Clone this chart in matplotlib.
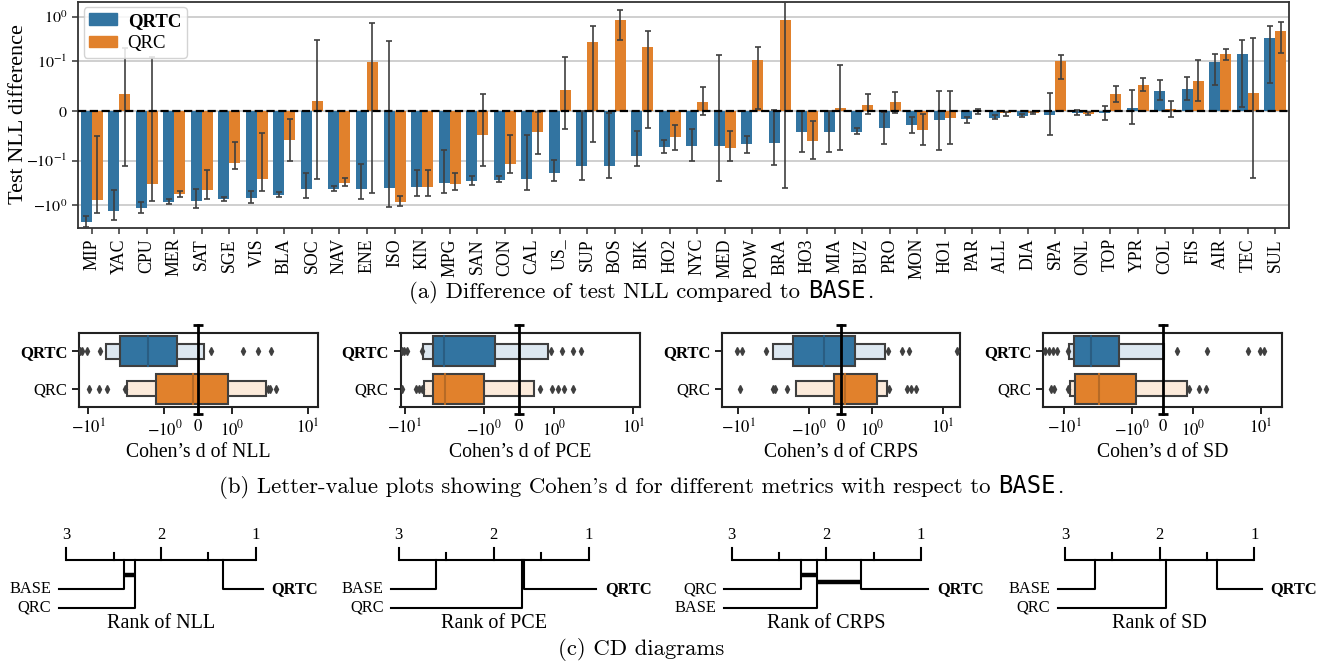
import matplotlib
matplotlib.use('Agg')
import matplotlib.pyplot as plt
import numpy as np
from matplotlib.patches import Patch
from matplotlib.ticker import NullLocator

plt.rcParams['font.family'] = ['Liberation Serif', 'DejaVu Serif']
plt.rcParams['mathtext.fontset'] = 'stix'
plt.rcParams['axes.unicode_minus'] = True

# ---------------- data ----------------
datasets = ["MIP", "YAC", "CPU", "MER", "SAT", "SGE", "VIS", "BLA", "SOC", "NAV", "ENE", "ISO",
            "KIN", "MPG", "SAN", "CON", "CAL", "US_", "SUP", "BOS", "BIK", "HO2", "NYC", "MED",
            "POW", "BRA", "HO3", "MIA", "BUZ", "PRO", "MON", "HO1", "PAR", "ALL", "DIA", "SPA",
            "ONL", "TOP", "YPR", "COL", "FIS", "AIR", "TEC", "SUL"]

qrtc_diff = [-2.33, -1.34, -1.15, -0.84, -0.80, -0.72, -0.67, -0.58, -0.42, -0.42, -0.42, -0.40,
             -0.38, -0.31, -0.285, -0.27, -0.26, -0.186, -0.129, -0.129, -0.090, -0.072, -0.070, -0.070,
             -0.066, -0.064, -0.043, -0.042, -0.042, -0.035, -0.029, -0.019, -0.017, -0.013, -0.0095, -0.007,
             -0.003, -0.003, 0.006, 0.041, 0.045, 0.098, 0.15, 0.327]
qrtc_lo = [-3.0, -2.17, -1.5, -0.92, -1.15, -0.80, -0.89, -0.65, -0.69, -0.48, -0.73, -1.09,
           -0.62, -0.53, -0.355, -0.30, -0.46, -0.285, -0.27, -0.25, -0.133, -0.085, -0.103, -0.28,
           -0.084, -0.127, -0.082, -0.082, -0.047, -0.067, -0.045, -0.079, -0.024, -0.017, -0.011, -0.048,
           -0.0075, -0.018, -0.027, 0.0215, 0.023, 0.052, 0.0073, 0.0574]
qrtc_hi = [-1.7, -0.45, -0.86, -0.73, -0.42, -0.66, -0.48, -0.51, -0.19, -0.37, -0.119, 0.285,
           -0.16, -0.079, -0.216, -0.22, -0.048, -0.099, 0.0, -0.004, -0.04, -0.058, -0.036, 0.14,
           -0.05, 0.003, 0.0, 0.0, -0.034, -0.002, -0.012, 0.04, -0.0115, -0.0075, -0.006, 0.036,
           0.002, 0.011, 0.042, 0.063, 0.068, 0.144, 0.30, 0.62]

qrc_diff = [-0.76, 0.0345, -0.328, -0.55, -0.45, -0.113, -0.26, -0.0575, 0.021, -0.32, 0.098, -0.83,
            -0.38, -0.33, -0.049, -0.119, -0.043, 0.043, 0.266, 0.83, 0.216, -0.053, 0.019, -0.074,
            0.105, 0.86, -0.060, 0.006, 0.0128, 0.019, -0.038, -0.013, 0.001, -0.004, -0.003, 0.10,
            -0.005, 0.0345, 0.053, 0.0047, 0.061, 0.15, 0.0365, 0.47]
qrc_lo = [-1.47, -0.129, -0.79, -0.65, -0.73, -0.155, -0.47, -0.10, -0.26, -0.37, -0.54, -1.05,
          -0.62, -0.46, -0.129, -0.19, -0.086, -0.036, -0.062, 0.305, -0.034, -0.078, -0.008, -0.104,
          0.005, -0.41, -0.097, -0.078, -0.005, -0.003, -0.069, -0.067, -0.005, -0.0095, -0.005, 0.064,
          -0.007, 0.019, 0.041, -0.0115, 0.021, 0.109, -0.25, 0.156]
qrc_hi = [-0.051, 0.202, 0.127, -0.48, -0.16, -0.063, -0.045, -0.016, 0.30, -0.245, 0.73, -0.63,
          -0.16, -0.19, 0.034, -0.049, -0.002, 0.125, 0.62, 1.39, 0.485, -0.029, 0.048, -0.041,
          0.21, 2.2, -0.02, 0.092, 0.034, 0.039, -0.006, 0.041, 0.004, -0.002, -0.001, 0.136,
          -0.001, 0.051, 0.066, 0.02, 0.105, 0.19, 0.33, 0.76]

methods = ["QRTC", "QRC"]
metrics = ["NLL", "PCE", "CRPS", "SD"]

# letter values (Cohen's d) per metric: [QRTC, QRC]
lv_median = {"NLL": [-1.67, -0.17], "PCE": [-3.16, -3.07], "CRPS": [-0.51, 0.13], "SD": [-4.06, -3.1]}
lv_quartiles = {"NLL": [(-3.9, -0.64), (-1.29, 0.89)],
                "PCE": [(-4.36, -0.68), (-4.45, -0.99)],
                "CRPS": [(-1.66, 0.47), (-0.22, 1.16)],
                "SD": [(-7.07, -1.57), (-6.83, -0.89)]}
lv_eighths = {"NLL": [(-5.8, 0.18), (-3.09, 2.8)],
              "PCE": [(-5.79, 0.83), (-5.67, 0.42)],
              "CRPS": [(-3.18, 1.5), (-1.53, 1.64)],
              "SD": [(-8.45, 0.04), (-8.1, 0.8)]}
lv_outliers = {"NLL": [[-12.9, -12.0, -10.6, -7.1, 0.376, 1.39, 2.18, 3.3],
                       [-9.8, -7.3, -5.7, -3.3, 2.99, 3.2, 3.83]],
               "PCE": [[-10.7, -10.1, -9.4, -6.07, 0.92, 1.26, 1.73, 2.2],
                       [-10.7, -7.2, -6.6, -6.1, 0.59, 0.93, 1.12, 1.34, 1.73]],
               "CRPS": [[-10.3, -8.9, -3.98, 1.68, 2.68, 3.3, 15.6],
                        [-9.3, -3.2, -2.98, -2.07, 1.74, 3.09, 3.57, 4.1]],
               "SD": [[-19.3, -16.7, -14.4, -12.5, -8.7, 0.48, 1.6, 6.3, 9.7, 10.9],
                      [-15.5, -13.8, -8.8, 0.88, 1.23, 1.55]]}

# CD diagrams: average ranks
cd_ranks = {"NLL": {"BASE": 2.385, "QRC": 2.273, "QRTC": 1.339},
            "PCE": {"BASE": 2.609, "QRC": 1.707, "QRTC": 1.684},
            "CRPS": {"QRC": 2.267, "BASE": 2.096, "QRTC": 1.638},
            "SD": {"BASE": 2.683, "QRC": 1.936, "QRTC": 1.390}}
cd_cliques = {"NLL": [("BASE", "QRC")],
              "PCE": [("QRC", "QRTC")],
              "CRPS": [("QRC", "BASE"), ("BASE", "QRTC")],
              "SD": []}

# ---------------- style ----------------
W, H, DPI = 1341, 666, 100
BLUE, ORANGE = '#3274a1', '#e1812c'
LIGHT = {"QRTC": '#dde8f1', "QRC": '#fcebdb'}
DARK = {"QRTC": BLUE, "QRC": ORANGE}
MED = {"QRTC": '#2a5d82', "QRC": '#b66a26'}
EDGE = '#3f3f3f'
CM = 'cmr10'
MONO = 'DejaVu Sans Mono'

fig = plt.figure(figsize=(W / DPI, H / DPI), dpi=DPI)


def px_axes(x0, y0, x1, y1):
    return fig.add_axes([x0 / W, 1 - y1 / H, (x1 - x0) / W, (y1 - y0) / H])


# ---------------- (a) bar chart ----------------
ax = px_axes(78, 1.5, 1289, 227.7)
x = np.arange(len(datasets))
bw = 0.4
q = np.array(qrtc_diff); r = np.array(qrc_diff)
ax.bar(x - bw / 2, q, width=bw, color=BLUE, zorder=2)
ax.bar(x + bw / 2, r, width=bw, color=ORANGE, zorder=2)
ax.errorbar(x - bw / 2, q, yerr=[np.clip(q - np.array(qrtc_lo), 0, None), np.clip(np.array(qrtc_hi) - q, 0, None)],
            fmt='none', ecolor=EDGE, elinewidth=1.2, capsize=2, capthick=1.2, zorder=3)
ax.errorbar(x + bw / 2, r, yerr=[np.clip(r - np.array(qrc_lo), 0, None), np.clip(np.array(qrc_hi) - r, 0, None)],
            fmt='none', ecolor=EDGE, elinewidth=1.2, capsize=2, capthick=1.2, zorder=3)
ax.set_yscale('symlog', linthresh=0.1, linscale=1)
ax.set_ylim(-3.17, 2.2)
ax.set_xlim(-0.5, len(datasets) - 0.5)
ax.set_yticks([-1, -0.1, 0, 0.1, 1])
ax.set_yticklabels([r'$-10^{0}$', r'$-10^{-1}$', r'$0$', r'$10^{-1}$', r'$10^{0}$'], fontsize=11.5)
ax.yaxis.set_minor_locator(NullLocator())
ax.set_xticks(x)
ax.set_xticklabels(datasets, rotation=90, fontsize=12.8)
ax.tick_params(axis='both', length=4, width=1.1, color='#333333')
ax.yaxis.grid(True, color='#cccccc', lw=1.3)
ax.set_axisbelow(True)
ax.axhline(0, color='black', ls='--', lw=1.6, zorder=4)
for s in ax.spines.values():
    s.set_color('#333333'); s.set_linewidth(1.3)
fig.text(18.3 / W, 1 - 114 / H, 'Test NLL difference', rotation=90, ha='center', va='center', fontsize=16)
leg = ax.legend([Patch(color=BLUE), Patch(color=ORANGE)], methods, loc='upper left', fontsize=13.5,
                frameon=True, framealpha=0.85, edgecolor='#cccccc', borderaxespad=0.3, borderpad=0.3,
                handlelength=1.5, handleheight=0.55, handletextpad=0.55, labelspacing=0.3)
leg.get_texts()[0].set_fontweight('bold')

# ---------------- (b) letter-value plots ----------------
lv_pos = [(79.3, 317.7), (400.5, 640.2), (722.3, 959.7), (1043.3, 1282.1)]
lv_xlim = [(-13.2, 13.4), (-11.3, 12.2), (-16.7, 17.2), (-20.1, 20.2)]
for (x0, x1), xl, met in zip(lv_pos, lv_xlim, metrics):
    a = px_axes(x0, 332.7, x1, 407.3)
    a.set_xscale('symlog', linthresh=1, linscale=0.4)
    for i, m in enumerate(methods):
        lo, hi = lv_eighths[met][i]
        a.barh(i, hi - lo, left=lo, height=0.4, color=LIGHT[m], edgecolor=EDGE, lw=1.5, zorder=2)
        lo, hi = lv_quartiles[met][i]
        a.barh(i, hi - lo, left=lo, height=0.8, color=DARK[m], edgecolor=EDGE, lw=1.5, zorder=3)
        md = lv_median[met][i]
        a.plot([md, md], [i - 0.4, i + 0.4], color=MED[m], lw=1.5, zorder=4)
        outs = lv_outliers[met][i]
        a.plot(outs, [i] * len(outs), ls='none', marker='d', ms=4.2, color=EDGE, zorder=4)
    a.plot([0, 0], [-0.095, 1.1], transform=a.get_xaxis_transform(), color='black', lw=2,
           clip_on=False, zorder=6)
    a.plot([0, 0], [-0.095, 1.1], transform=a.get_xaxis_transform(), ls='none', marker='_', ms=7,
           mew=2, color='black', clip_on=False, zorder=6)
    a.set_xlim(*xl)
    a.set_ylim(1.5, -0.5)
    a.set_yticks([0, 1])
    a.set_yticklabels(methods, fontsize=12)
    a.get_yticklabels()[0].set_fontweight('bold')
    a.set_xticks([-10, -1, 0, 1, 10])
    a.set_xticklabels([r'$-10^{1}$', r'$-10^{0}$', r'$0$', r'$10^{0}$', r'$10^{1}$'], fontsize=12)
    a.xaxis.set_minor_locator(NullLocator())
    a.tick_params(axis='both', length=5, width=1.4, color='#222222')
    for s in a.spines.values():
        s.set_color('#222222'); s.set_linewidth(1.5)
    a.set_xlabel("Cohen\u2019s d of " + met, fontsize=14.2, labelpad=3)

# ---------------- (c) CD diagrams ----------------
cd_pos = [(66.2, 255.6), (398.7, 588.9), (731.7, 921.1), (1064.9, 1254.3)]
for (x0, x1), met in zip(cd_pos, metrics):
    a = px_axes(x0, 525, x1, 630)
    a.set_xlim(3, 1)
    a.set_ylim(630, 525)
    a.axis('off')
    a.plot([3, 1], [560, 560], color='black', lw=1.5, solid_capstyle='butt', clip_on=False)
    for t in [3, 2.5, 2, 1.5, 1]:
        ln = 11.7 if t == int(t) else 7
        a.plot([t, t], [560, 560 - ln], color='black', lw=1.5, clip_on=False)
        if t == int(t):
            a.text(t, 535, str(int(t)), ha='center', va='center', fontsize=12)
    rk = cd_ranks[met]
    order = sorted(rk, key=lambda k: -rk[k])
    nleft = (len(order) + 1) // 2
    left = order[:nleft]
    right = order[nleft:][::-1]
    ext = 0.078
    rows = [589.3, 607.7]
    for j, k in enumerate(left):
        yy = rows[j]
        a.plot([rk[k], rk[k], 3 + ext], [560, yy, yy], color='black', lw=1.5, clip_on=False)
        a.text(3 + ext + 0.08, yy, k, ha='right', va='center', fontsize=11.8,
               fontweight='bold' if k == 'QRTC' else 'normal', clip_on=False)
    for j, k in enumerate(right):
        yy = rows[j]
        a.plot([rk[k], rk[k], 1 - ext], [560, yy, yy], color='black', lw=1.5, clip_on=False)
        a.text(1 - ext - 0.09, yy, k, ha='left', va='center', fontsize=11.8,
               fontweight='bold' if k == 'QRTC' else 'normal', clip_on=False)
    for j, (k1, k2) in enumerate(cd_cliques[met]):
        yy = 574.7 + 7 * j
        a.plot([rk[k1], rk[k2]], [yy, yy], color='black', lw=3.2, solid_capstyle='butt', clip_on=False)
    a.text(2, 623.3, 'Rank of ' + met, ha='center', va='center', fontsize=14.5)


# ---------------- captions ----------------
CAP_FS = 16.4


def caption(y_px, pieces, xc=642):
    renderer = fig.canvas.get_renderer()
    base = 1 - (y_px + 5) / H
    space = 0.333 * CAP_FS * DPI / 72
    items = []
    for s, fam, gap in pieces:
        fs = CAP_FS * 1.05 if fam == MONO else CAP_FS
        t = fig.text(0, base, s, family=fam, fontsize=fs, ha='left', va='baseline')
        w = t.get_window_extent(renderer).width
        items.append((t, w + (space if gap else 1.5)))
    total = sum(it[1] for it in items)
    cur = xc - total / 2
    for t, adv in items:
        t.set_x(cur / W)
        cur += adv


caption(293, [("(a) Difference of test NLL compared to", CM, True), ("BASE", MONO, False), (".", CM, False)])
caption(488, [("(b) Letter-value plots showing Cohen's d for different metrics with respect to", CM, True),
              ("BASE", MONO, False), (".", CM, False)])
caption(650, [("(c) CD diagrams", CM, False)])

fig.savefig('out.png', dpi=DPI)
